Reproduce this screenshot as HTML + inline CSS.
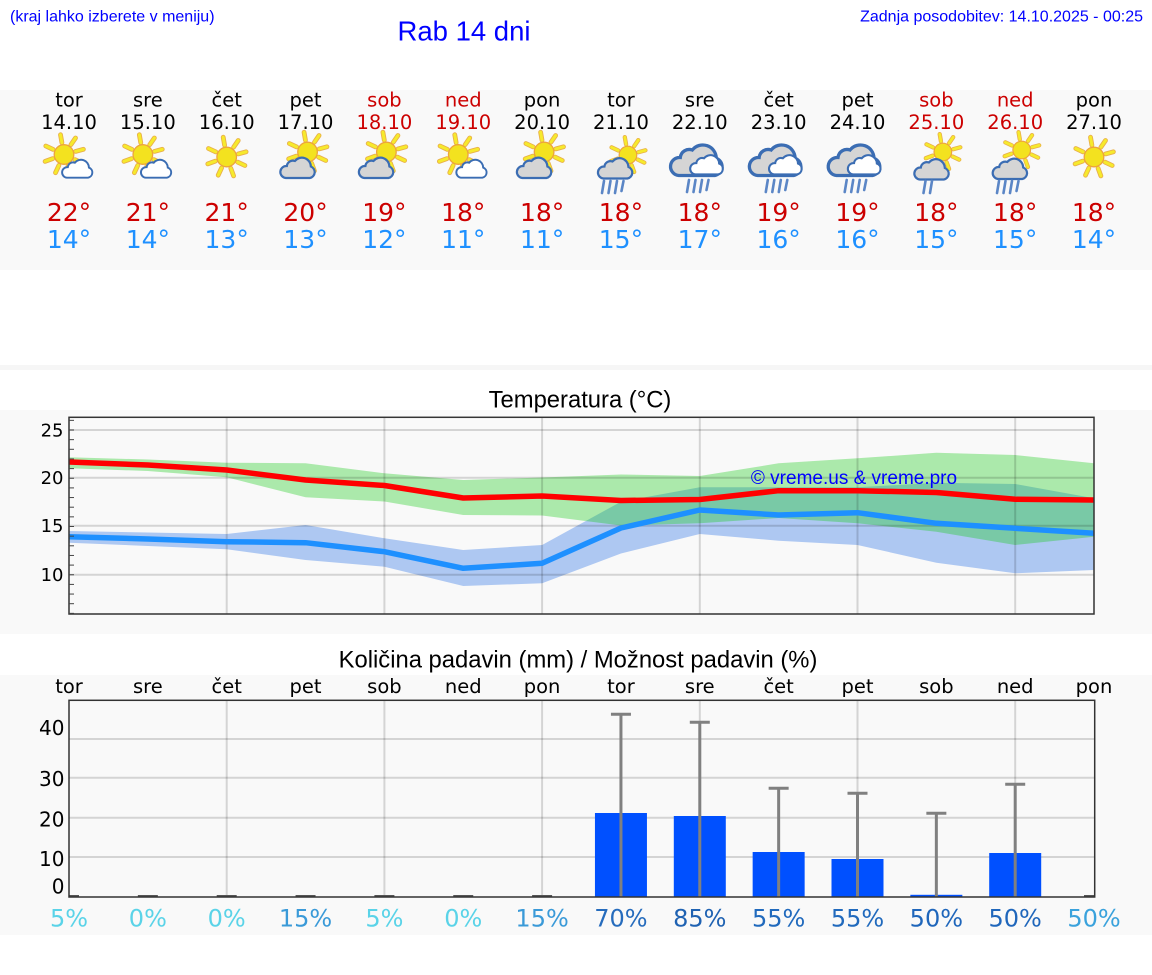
<!DOCTYPE html>
<html><head><meta charset="utf-8"><style>
html,body{margin:0;padding:0;background:#fff;}
svg{display:block;}
.d{font-family:"DejaVu Sans",sans-serif;}
.l{font-family:"Liberation Sans",Arial,sans-serif;}
</style></head><body>
<svg width="1152" height="975" viewBox="0 0 1152 975" xmlns="http://www.w3.org/2000/svg">
<defs>
<g id="sun">
<path d="M-2.1,-11.8L-3.5,-19.8M6.9,-9.8L11.5,-16.5M11.6,-3.1L19.4,-5.2M10.9,5.1L18.2,8.5M4.1,11.3L6.9,18.9M-5.1,10.9L-8.5,18.2M-11.3,4.1L-18.9,6.9M-10.9,-5.1L-18.2,-8.5" stroke="#e9b04a" stroke-width="4.8" stroke-linecap="round" fill="none"/>
<path d="M-2.1,-11.8L-3.5,-19.8M6.9,-9.8L11.5,-16.5M11.6,-3.1L19.4,-5.2M10.9,5.1L18.2,8.5M4.1,11.3L6.9,18.9M-5.1,10.9L-8.5,18.2M-11.3,4.1L-18.9,6.9M-10.9,-5.1L-18.2,-8.5" stroke="#f6ea2c" stroke-width="3" stroke-linecap="round" fill="none"/>
<circle r="9.8" fill="#f3e21f" stroke="#eda43c" stroke-width="1.3"/>
</g>
<path id="cpath" d="M-12,11 H12 A6,6 0 0 0 13,-0.5 A9,9 0 0 0 -3,-6 A6,6 0 0 0 -11,-1 A6,6 0 0 0 -12,11 Z"/>
<g id="cw"><use href="#cpath" fill="#ffffff" stroke="#3b6db3" stroke-width="2.2"/></g>
<g id="cg"><use href="#cpath" fill="#d5d5d5" stroke="#3b6db3" stroke-width="2.2"/></g>
<g id="r4" stroke="#5b86c6" stroke-width="2.6" stroke-linecap="round">
<line x1="1.5" y1="0" x2="-0.5" y2="12"/><line x1="8" y1="0" x2="6" y2="12"/><line x1="14.5" y1="0" x2="12.5" y2="12"/><line x1="21" y1="0" x2="19" y2="10"/>
</g>
<g id="r2" stroke="#5b86c6" stroke-width="2.6" stroke-linecap="round">
<line x1="1.5" y1="0" x2="-0.5" y2="12"/><line x1="8" y1="0" x2="6" y2="12"/>
</g>
<clipPath id="tc"><rect x="69" y="417.3" width="1025" height="196.7"/></clipPath>
</defs>

<!-- panels -->
<rect x="0" y="90" width="1152" height="180" fill="#f9f9f9"/>
<rect x="0" y="365" width="1152" height="5" fill="#f6f6f6"/>
<rect x="0" y="410" width="1152" height="224" fill="#f9f9f9"/>
<rect x="0" y="675" width="1152" height="260" fill="#f9f9f9"/>

<!-- header -->
<text class="l" x="10" y="21.5" font-size="16" fill="#0000ff">(kraj lahko izberete v meniju)</text>
<text class="l" x="464" y="40.5" font-size="27.5" fill="#0000ff" text-anchor="middle">Rab 14 dni</text>
<text class="l" x="1143" y="21.5" font-size="16" fill="#0000ff" text-anchor="end">Zadnja posodobitev: 14.10.2025 - 00:25</text>

<!-- day header -->
<g class="d" font-size="19.5" text-anchor="middle">
<text x="69" y="106.5">tor</text><text x="69" y="129">14.10</text>
<text x="147.85" y="106.5">sre</text><text x="147.85" y="129">15.10</text>
<text x="226.7" y="106.5">čet</text><text x="226.7" y="129">16.10</text>
<text x="305.55" y="106.5">pet</text><text x="305.55" y="129">17.10</text>
<text x="384.4" y="106.5" fill="#cc0000">sob</text><text x="384.4" y="129" fill="#cc0000">18.10</text>
<text x="463.25" y="106.5" fill="#cc0000">ned</text><text x="463.25" y="129" fill="#cc0000">19.10</text>
<text x="542.1" y="106.5">pon</text><text x="542.1" y="129">20.10</text>
<text x="620.95" y="106.5">tor</text><text x="620.95" y="129">21.10</text>
<text x="699.8" y="106.5">sre</text><text x="699.8" y="129">22.10</text>
<text x="778.65" y="106.5">čet</text><text x="778.65" y="129">23.10</text>
<text x="857.5" y="106.5">pet</text><text x="857.5" y="129">24.10</text>
<text x="936.35" y="106.5" fill="#cc0000">sob</text><text x="936.35" y="129" fill="#cc0000">25.10</text>
<text x="1015.2" y="106.5" fill="#cc0000">ned</text><text x="1015.2" y="129" fill="#cc0000">26.10</text>
<text x="1094" y="106.5">pon</text><text x="1094" y="129">27.10</text>
</g>

<!-- icons -->
<use href="#sun" transform="translate(64,154.5)"/><use href="#cw" transform="translate(77.5,168) scale(0.88)"/>
<use href="#sun" transform="translate(142.85,154.5)"/><use href="#cw" transform="translate(156.35,168) scale(0.88)"/>
<use href="#sun" transform="translate(226.7,157)"/>
<use href="#sun" transform="translate(307.55,152)"/><use href="#cg" transform="translate(297.85,167)"/>
<use href="#sun" transform="translate(386.4,152)"/><use href="#cg" transform="translate(376.4,167)"/>
<use href="#sun" transform="translate(458.25,154.5)"/><use href="#cw" transform="translate(471.75,168) scale(0.88)"/>
<use href="#sun" transform="translate(544.1,152)"/><use href="#cg" transform="translate(534.4,167)"/>
<!-- day 7 -->
<use href="#sun" transform="translate(627.95,155) scale(0.9)"/><use href="#cg" transform="translate(615.45,167.5)"/><use href="#r4" transform="translate(602.5,181)"/>
<!-- days 8-10 -->
<use href="#cg" transform="translate(696.8,159) scale(1.5)"/><use href="#cw" transform="translate(706.8,164) scale(0.95)"/><use href="#r4" transform="translate(687.5,180)"/>
<use href="#cg" transform="translate(775.65,159) scale(1.5)"/><use href="#cw" transform="translate(785.65,164) scale(0.95)"/><use href="#r4" transform="translate(766.3,180)"/>
<use href="#cg" transform="translate(854.5,159) scale(1.5)"/><use href="#cw" transform="translate(864.5,164) scale(0.95)"/><use href="#r4" transform="translate(845.2,180)"/>
<!-- day 11 -->
<use href="#sun" transform="translate(942.85,152) scale(0.9)"/><use href="#cg" transform="translate(931.85,168.5)"/><use href="#r2" transform="translate(924,181)"/>
<!-- day 12 -->
<use href="#sun" transform="translate(1021.7,150) scale(0.9)"/><use href="#cg" transform="translate(1010.2,168)"/><use href="#r4" transform="translate(997.5,181)"/>
<use href="#sun" transform="translate(1094,157)"/>

<!-- temps -->
<g class="d" font-size="25" text-anchor="middle" fill="#cc0000">
<text x="69" y="221">22°</text><text x="147.85" y="221">21°</text><text x="226.7" y="221">21°</text><text x="305.55" y="221">20°</text><text x="384.4" y="221">19°</text><text x="463.25" y="221">18°</text><text x="542.1" y="221">18°</text><text x="620.95" y="221">18°</text><text x="699.8" y="221">18°</text><text x="778.65" y="221">19°</text><text x="857.5" y="221">19°</text><text x="936.35" y="221">18°</text><text x="1015.2" y="221">18°</text><text x="1094" y="221">18°</text>
</g>
<g class="d" font-size="25" text-anchor="middle" fill="#1e90ff">
<text x="69" y="248">14°</text><text x="147.85" y="248">14°</text><text x="226.7" y="248">13°</text><text x="305.55" y="248">13°</text><text x="384.4" y="248">12°</text><text x="463.25" y="248">11°</text><text x="542.1" y="248">11°</text><text x="620.95" y="248">15°</text><text x="699.8" y="248">17°</text><text x="778.65" y="248">16°</text><text x="857.5" y="248">16°</text><text x="936.35" y="248">15°</text><text x="1015.2" y="248">15°</text><text x="1094" y="248">14°</text>
</g>

<!-- temperature chart -->
<text class="l" x="580" y="407.5" font-size="23.8" text-anchor="middle" fill="#000">Temperatura (°C)</text>
<g clip-path="url(#tc)">
<polygon fill="#aec8f2" points="69,531 147.85,532.5 226.7,534 305.55,525 384.4,538.3 463.25,550 542.1,545 620.95,501.7 699.8,487.3 778.65,487.3 857.5,487.3 936.35,482.7 1015.2,484 1094,498.3 1094,570 1015.2,573.3 936.35,562.7 857.5,545 778.65,540.7 699.8,534 620.95,553.5 542.1,583.3 463.25,586 384.4,566.7 305.55,560 226.7,549.3 147.85,546 69,542.7"/>
<polygon fill="#15cb15" fill-opacity="0.34" points="69,457.3 147.85,459.5 226.7,462.7 305.55,463.3 384.4,473.3 463.25,480 542.1,477.5 620.95,474.5 699.8,476 778.65,463.3 857.5,458.3 936.35,452.7 1015.2,455 1094,463.3 1094,536.7 1015.2,545 936.35,531.7 857.5,523.3 778.65,518 699.8,523.3 620.95,525.5 542.1,515.5 463.25,515 384.4,501.5 305.55,497.3 226.7,477.3 147.85,471 69,468.3"/>
<g stroke="#000" stroke-opacity="0.15" stroke-width="2">
<line x1="69" y1="430" x2="1094" y2="430"/><line x1="69" y1="477.7" x2="1094" y2="477.7"/><line x1="69" y1="525.7" x2="1094" y2="525.7"/><line x1="69" y1="574.7" x2="1094" y2="574.7"/>
<line x1="226.7" y1="417" x2="226.7" y2="614"/><line x1="384.4" y1="417" x2="384.4" y2="614"/><line x1="542.1" y1="417" x2="542.1" y2="614"/><line x1="699.8" y1="417" x2="699.8" y2="614"/><line x1="857.5" y1="417" x2="857.5" y2="614"/><line x1="1015.2" y1="417" x2="1015.2" y2="614"/>
</g>
<text class="l" x="854" y="484" font-size="19" text-anchor="middle" fill="#0000ff">© vreme.us &amp; vreme.pro</text>
<polyline fill="none" stroke="#1e90ff" stroke-width="5.5" stroke-linejoin="round" points="69,536.7 147.85,539 226.7,541.7 305.55,542.7 384.4,551.7 463.25,568.3 542.1,563.3 620.95,528 699.8,510 778.65,515 857.5,512.7 936.35,523.3 1015.2,528.3 1094,533.3"/>
<polyline fill="none" stroke="#ff0000" stroke-width="5.5" stroke-linejoin="round" points="69,462 147.85,465 226.7,470 305.55,480 384.4,485.5 463.25,498 542.1,496 620.95,500.5 699.8,499.5 778.65,490.7 857.5,490.7 936.35,492.5 1015.2,499.3 1094,500"/>
</g>
<rect x="69" y="417.3" width="1025" height="196.7" fill="none" stroke="#333" stroke-width="1.5"/>
<g stroke="#444" stroke-width="1">
<line x1="69" y1="420.35" x2="74" y2="420.35"/><line x1="69" y1="430" x2="74" y2="430"/><line x1="69" y1="439.65" x2="74" y2="439.65"/><line x1="69" y1="449.3" x2="74" y2="449.3"/><line x1="69" y1="458.95" x2="74" y2="458.95"/><line x1="69" y1="468.6" x2="74" y2="468.6"/><line x1="69" y1="478.25" x2="74" y2="478.25"/><line x1="69" y1="487.9" x2="74" y2="487.9"/><line x1="69" y1="497.55" x2="74" y2="497.55"/><line x1="69" y1="507.2" x2="74" y2="507.2"/><line x1="69" y1="516.85" x2="74" y2="516.85"/><line x1="69" y1="526.5" x2="74" y2="526.5"/><line x1="69" y1="536.15" x2="74" y2="536.15"/><line x1="69" y1="545.8" x2="74" y2="545.8"/><line x1="69" y1="555.45" x2="74" y2="555.45"/><line x1="69" y1="565.1" x2="74" y2="565.1"/><line x1="69" y1="574.75" x2="74" y2="574.75"/><line x1="69" y1="584.4" x2="74" y2="584.4"/><line x1="69" y1="594.05" x2="74" y2="594.05"/><line x1="69" y1="603.7" x2="74" y2="603.7"/><line x1="69" y1="613.35" x2="74" y2="613.35"/>
</g>
<g class="d" font-size="18" text-anchor="end" fill="#000">
<text x="63.5" y="436.5">25</text><text x="63.5" y="484.2">20</text><text x="63.5" y="532.2">15</text><text x="63.5" y="581.2">10</text>
</g>

<!-- precipitation chart -->
<text class="l" x="578" y="667.5" font-size="23.8" text-anchor="middle" fill="#000">Količina padavin (mm) / Možnost padavin (%)</text>
<g class="d" font-size="19.5" text-anchor="middle" fill="#000">
<text x="69" y="693">tor</text><text x="147.85" y="693">sre</text><text x="226.7" y="693">čet</text><text x="305.55" y="693">pet</text><text x="384.4" y="693">sob</text><text x="463.25" y="693">ned</text><text x="542.1" y="693">pon</text><text x="620.95" y="693">tor</text><text x="699.8" y="693">sre</text><text x="778.65" y="693">čet</text><text x="857.5" y="693">pet</text><text x="936.35" y="693">sob</text><text x="1015.2" y="693">ned</text><text x="1094" y="693">pon</text>
</g>
<g stroke="#000" stroke-opacity="0.15" stroke-width="2">
<line x1="69" y1="739" x2="1094.7" y2="739"/><line x1="69" y1="777.7" x2="1094.7" y2="777.7"/><line x1="69" y1="817.7" x2="1094.7" y2="817.7"/><line x1="69" y1="857" x2="1094.7" y2="857"/>
<line x1="226.7" y1="700" x2="226.7" y2="897"/><line x1="384.4" y1="700" x2="384.4" y2="897"/><line x1="542.1" y1="700" x2="542.1" y2="897"/><line x1="699.8" y1="700" x2="699.8" y2="897"/><line x1="857.5" y1="700" x2="857.5" y2="897"/><line x1="1015.2" y1="700" x2="1015.2" y2="897"/>
</g>
<g fill="#0050ff">
<rect x="594.95" y="813" width="52" height="84"/>
<rect x="673.8" y="816" width="52" height="81"/>
<rect x="752.65" y="852" width="52" height="45"/>
<rect x="831.5" y="859" width="52" height="38"/>
<rect x="910.35" y="894.8" width="52" height="2.2"/>
<rect x="989.2" y="853" width="52" height="44"/>
</g>
<g stroke="#808080" stroke-width="3">
<line x1="620.95" y1="714.3" x2="620.95" y2="897"/><line x1="610.95" y1="714.3" x2="630.95" y2="714.3"/>
<line x1="699.8" y1="722.3" x2="699.8" y2="897"/><line x1="689.8" y1="722.3" x2="709.8" y2="722.3"/>
<line x1="778.65" y1="788.3" x2="778.65" y2="897"/><line x1="768.65" y1="788.3" x2="788.65" y2="788.3"/>
<line x1="857.5" y1="793.3" x2="857.5" y2="897"/><line x1="847.5" y1="793.3" x2="867.5" y2="793.3"/>
<line x1="936.35" y1="813.3" x2="936.35" y2="897"/><line x1="926.35" y1="813.3" x2="946.35" y2="813.3"/>
<line x1="1015.2" y1="784.3" x2="1015.2" y2="897"/><line x1="1005.2" y1="784.3" x2="1025.2" y2="784.3"/>
</g>
<g stroke="#555" stroke-width="2">
<line x1="69" y1="896" x2="79" y2="896"/><line x1="137.85" y1="896" x2="157.85" y2="896"/><line x1="216.7" y1="896" x2="236.7" y2="896"/><line x1="295.55" y1="896" x2="315.55" y2="896"/><line x1="374.4" y1="896" x2="394.4" y2="896"/><line x1="453.25" y1="896" x2="473.25" y2="896"/><line x1="532.1" y1="896" x2="552.1" y2="896"/><line x1="1084" y1="896" x2="1094" y2="896"/>
</g>
<rect x="69" y="700.3" width="1025.7" height="196.7" fill="none" stroke="#333" stroke-width="1.5"/>
<g class="d" font-size="20" text-anchor="end" fill="#000">
<text x="64.5" y="735">40</text><text x="64.5" y="786">30</text><text x="64.5" y="826.5">20</text><text x="64.5" y="866">10</text><text x="64.5" y="893.5">0</text>
</g>
<g class="d" font-size="24" text-anchor="middle">
<text x="69" y="926.7" fill="#5ad3e8">5%</text>
<text x="147.85" y="926.7" fill="#5ad3e8">0%</text>
<text x="226.7" y="926.7" fill="#5ad3e8">0%</text>
<text x="305.55" y="926.7" fill="#3a9ad8">15%</text>
<text x="384.4" y="926.7" fill="#5ad3e8">5%</text>
<text x="463.25" y="926.7" fill="#5ad3e8">0%</text>
<text x="542.1" y="926.7" fill="#3a9ad8">15%</text>
<text x="620.95" y="926.7" fill="#266cbd">70%</text>
<text x="699.8" y="926.7" fill="#1f62b2">85%</text>
<text x="778.65" y="926.7" fill="#216abd">55%</text>
<text x="857.5" y="926.7" fill="#216abd">55%</text>
<text x="936.35" y="926.7" fill="#1f66bb">50%</text>
<text x="1015.2" y="926.7" fill="#1f66bb">50%</text>
<text x="1094" y="926.7" fill="#3aa2dc">50%</text>
</g>
</svg>
</body></html>
